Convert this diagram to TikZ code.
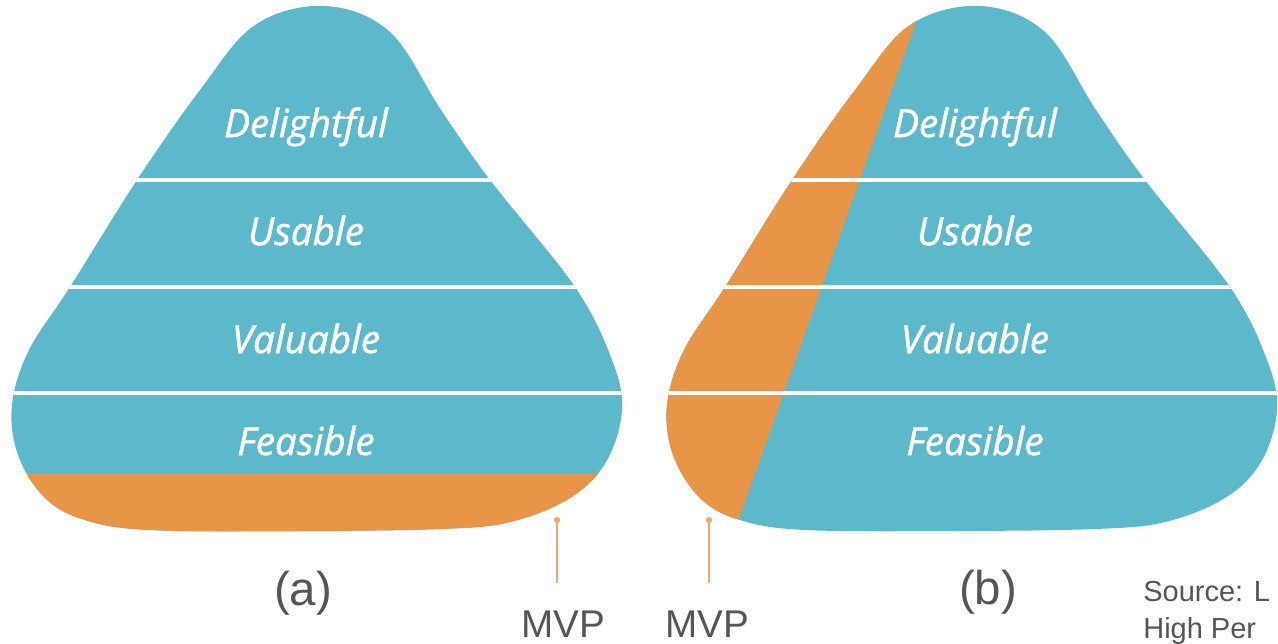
\documentclass[tikz,border=0pt]{standalone}
\usepackage{fontspec}
\setmainfont{Liberation Sans}
\newfontfamily\bandfont{Open Sans}[FakeBold=1.4]
\usetikzlibrary{positioning}

\definecolor{pyrteal}{RGB}{92,185,204}
\definecolor{pyrorange}{RGB}{232,149,72}
\definecolor{mvporange}{RGB}{238,170,110}
\definecolor{capgray}{RGB}{85,85,85}

% rounded pyramid outline, in pixel units (y grows downwards)
\newcommand{\blobpath}{plot[smooth cycle, tension=0.6] coordinates {(325,6) (390,32) (441,110) (490,180) (575,287) (612,360) (622,410) (606,462) (570,498) (510,522) (440,529) (300,531) (150,530) (85,520) (45,498) (18,455) (12,405) (29,350) (70,287) (137,180) (200,90) (255,25)}}

\begin{document}
\begin{tikzpicture}[x=0.02cm, y=-0.02cm,
		band/.style={text=white, anchor=base, font=\bandfont\itshape\fontsize{22}{26}\selectfont},
		divider/.style={white, line width=2.4pt},
		caption/.style={text=capgray, anchor=base, font=\fontsize{27}{32}\selectfont},
		mvp/.style={text=capgray, anchor=base, font=\fontsize{22}{26}\selectfont},
		mvpline/.style={mvporange, line width=1.4pt},
		source/.style={text=capgray, anchor=base west, align=left, inner sep=0pt, font=\fontsize{16.5}{21}\selectfont}]
	\useasboundingbox (0,0) rectangle (1278,643);
	% left pyramid: MVP is the bottom slice
	\begin{scope}
		\fill[pyrteal] \blobpath;
		\clip \blobpath;
		\fill[pyrorange] (0,473) rectangle (700,600);
		\foreach \y in {180,287,393}
			\draw[divider] (0,\y) -- (700,\y);
	\end{scope}
	% right pyramid: MVP is a thin slice through every layer
	\begin{scope}[shift={(655,0)}]
		\fill[pyrteal] \blobpath;
		\clip \blobpath;
		\fill[pyrorange] (-50,-20) -- (276,-20) -- (55,600) -- (-50,600) -- cycle;
		\foreach \y in {180,287,393}
			\draw[divider] (0,\y) -- (700,\y);
	\end{scope}
	% layer names
	\foreach \name/\txt/\y in {delight/Delightful/137, usable/Usable/245, value/Valuable/353, feas/Feasible/455}{
		\node[band] (\name A) at (306,\y) {\txt};
		\node[band] (\name B) at (975,\y) {\txt};
	}
	% captions
	\node[caption] (capA) at (303,605) {(a)};
	\node[caption] (capB) at (988,604) {(b)};
	% MVP markers
	\coordinate (tipA) at (557,520);
	\coordinate (footA) at (557,583);
	\coordinate (tipB) at (709,520);
	\coordinate (footB) at (709,583);
	\draw[mvpline] (tipA) -- (footA);
	\draw[mvpline] (tipB) -- (footB);
	\fill[mvporange] (tipA) circle (1.8pt);
	\fill[mvporange] (tipB) circle (1.8pt);
	\node[mvp] (mvpA) at (563,637) {MVP};
	\node[mvp] (mvpB) at (707,637) {MVP};
	% source note
	\node[source] (src) at (1143,638) {Source: L\\High Per};
\end{tikzpicture}
\end{document}
